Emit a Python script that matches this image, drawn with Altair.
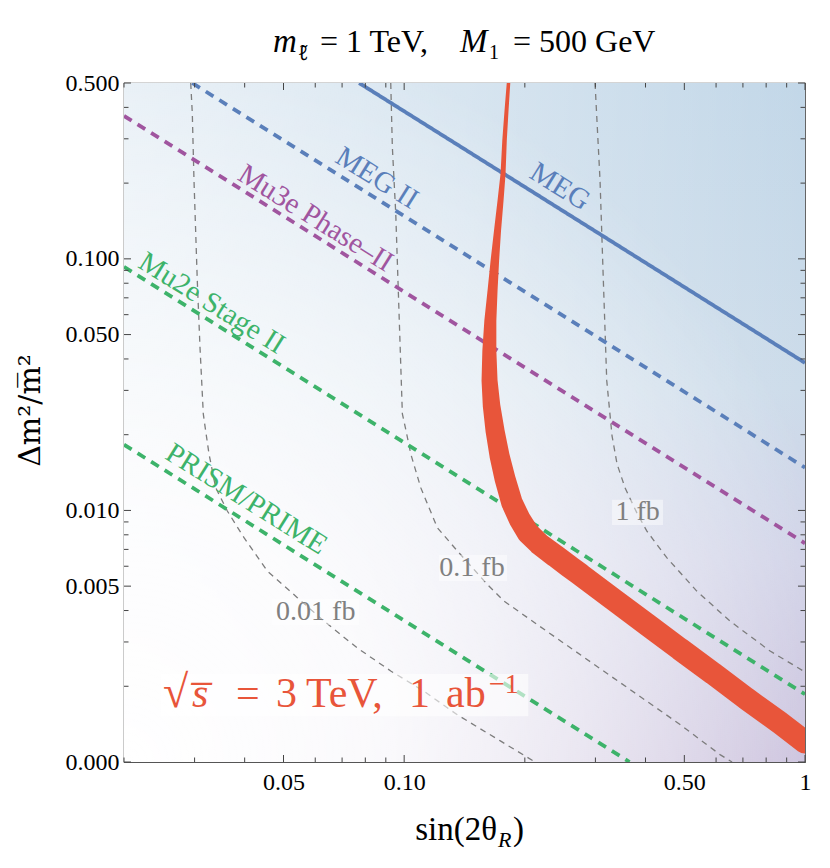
import altair as alt
import pandas as pd

FONT = "Liberation Serif"
W, H = 681, 679

# ---------------- axes ----------------
X_DOMAIN = [0.02, 1.0]
Y_DOMAIN = [0.001, 0.5]
x_major = [0.05, 0.1, 0.5, 1.0]
y_major = [0.001, 0.005, 0.01, 0.05, 0.1, 0.5]
x_minor = [0.02, 0.03, 0.04, 0.06, 0.07, 0.08, 0.09, 0.2, 0.3, 0.4, 0.6, 0.7, 0.8, 0.9]
y_minor = [0.002, 0.003, 0.004, 0.006, 0.007, 0.008, 0.009,
           0.02, 0.03, 0.04, 0.06, 0.07, 0.08, 0.09, 0.2, 0.3, 0.4]

# ---------------- experimental sensitivity lines ----------------
exp_names = ["MEG", "MEG II", "Mu3e Phase\u2013II", "Mu2e Stage II", "PRISM/PRIME"]
exp_x0 = [0.0772, 0.0296, 0.02, 0.02, 0.02]
exp_y0 = [0.5, 0.5, 0.37, 0.093, 0.01825]
exp_x1 = [1.0, 1.0, 1.0, 1.0, 0.365]
exp_y1 = [0.0386, 0.0148, 0.0074, 0.00186, 0.001]
exp_colors = ["#5a7fba", "#5a7fba", "#a0559f", "#3db36a", "#3db36a"]
exp_dash = [[1, 0], [9, 7], [9, 7], [9, 7], [9, 7]]
lab_x = [0.2449, 0.08558, 0.06016, 0.03315, 0.04043]
lab_y = [0.1940, 0.2097, 0.1453, 0.0667, 0.01111]

# ---------------- cross-section contours ----------------
c01_x = [0.02934, 0.02961, 0.02990, 0.03047, 0.03095, 0.03154, 0.03179, 0.03259, 0.03386,
         0.03621, 0.03985, 0.04557, 0.05414, 0.06310, 0.07640, 0.09258, 0.11208, 0.13573,
         0.17416, 0.2121]
c01_y = [0.5, 0.3788, 0.2050, 0.0820, 0.0443, 0.02421, 0.02208, 0.01678, 0.01232,
         0.00995, 0.00779, 0.00574, 0.00450, 0.00363, 0.00284, 0.00230, 0.00191, 0.00154,
         0.00121, 0.001]
c1_x = [0.09258, 0.09344, 0.09529, 0.09711, 0.09897, 0.10109, 0.10386, 0.10998, 0.12097,
        0.13573, 0.16124, 0.17749, 0.22680, 0.33254, 0.48778, 0.61380, 0.65770]
c1_y = [0.5, 0.2781, 0.1510, 0.0605, 0.02421, 0.02072, 0.01678, 0.01232, 0.00854,
        0.00690, 0.00508, 0.00436, 0.00331, 0.00216, 0.00141, 0.00107, 0.001]
c10_x = [0.29936, 0.30808, 0.31398, 0.32018, 0.33006, 0.33968, 0.35566, 0.38040, 0.40288,
         0.45200, 0.53698, 0.65018, 0.81842, 1.0]
c10_y = [0.5, 0.2050, 0.0820, 0.0328, 0.0198, 0.0153, 0.0123, 0.0098, 0.00829,
         0.00649, 0.00478, 0.00363, 0.00276, 0.00228]
contour_labels = ["0.01 fb", "0.1 fb", "1 fb"]
clab_x = [0.06016, 0.14767, 0.38216]
clab_y = [0.003942, 0.005903, 0.009861]
cbox_x0 = [0.04681, 0.12215, 0.33006]
cbox_x1 = [0.07715, 0.18057, 0.4425]
cbox_y0 = [0.0035, 0.005239, 0.008754]
cbox_y1 = [0.004442, 0.006648, 0.011014]

# ---------------- 3 TeV, 1 ab^-1 band ----------------
band_x = [0.1821, 0.18005, 0.17800, 0.1765, 0.17396, 0.17099, 0.16836, 0.16615, 0.16406, 0.16312,
          0.1633, 0.16520, 0.16855, 0.17297, 0.17851, 0.18581, 0.19399, 0.20372, 0.21825, 0.23788,
          0.25930, 0.27462, 0.33198, 0.4028, 0.48778, 0.5896, 0.7129, 0.8666, 1.0]
band_y = [0.5, 0.3893, 0.2957, 0.2185, 0.1706, 0.1297, 0.0984, 0.0748, 0.0568, 0.0431,
          0.0328, 0.02606, 0.02072, 0.01648, 0.01335, 0.01071, 0.00925, 0.00814, 0.00732, 0.00661,
          0.00596, 0.00557, 0.00444, 0.00353, 0.00281, 0.00225, 0.00179, 0.00143, 0.00120]
band_w = [3.5, 4, 4.5, 5, 6, 7, 8.5, 10, 12, 14,
          16, 17.5, 19, 20, 21, 21.5, 22, 22.5, 22.5, 23,
          23, 23, 23, 23, 23, 23, 23, 23, 23]

RED = "#e8553a"

XS = alt.Scale(type="log", domain=X_DOMAIN, nice=False)
YS = alt.Scale(type="log", domain=Y_DOMAIN, nice=False)
XAX = alt.Axis(values=x_major,
               labelExpr="datum.value >= 1 ? '1' : format(datum.value, '.2f')",
               ticks=False, domain=False, grid=False, labelFont=FONT, labelFontSize=24,
               labelColor="black", labelPadding=8, labelFlush=False, labelOverlap=False,
               title=None)
YAX = alt.Axis(values=y_major,
               labelExpr="datum.value < 0.002 ? '0.000' : format(datum.value, '.3f')",
               ticks=False, domain=False, grid=False, labelFont=FONT, labelFontSize=24,
               labelColor="black", labelPadding=5, labelFlush=False, labelOverlap=False,
               title="\u0394m\u00b2/m\u0305\u00b2", titleFont="DejaVu Serif", titleFontSize=30,
               titleFontWeight="normal", titleColor="black", titleX=-94, titleY=327,
               titleAngle=-90, titleAlign="center", titleBaseline="middle")


def X(f):
    return alt.X(f, type="quantitative", scale=XS, axis=XAX)


def Y(f):
    return alt.Y(f, type="quantitative", scale=YS, axis=YAX)


layers = []

# background shading: blue (top) to lavender (bottom), whitened towards the left / bottom-left
bg = pd.DataFrame({"x0": [X_DOMAIN[0]], "x1": [X_DOMAIN[1]], "y0": [Y_DOMAIN[0]], "y1": [Y_DOMAIN[1]]})
base_grad = {"gradient": "linear", "x1": 0, "y1": 0, "x2": 0, "y2": 1,
             "stops": [{"offset": 0, "color": "#c2d7e8"}, {"offset": 0.45, "color": "#cddcea"},
                       {"offset": 0.7, "color": "#d0d2e7"}, {"offset": 1, "color": "#c8bedb"}]}
white_h = {"gradient": "linear", "x1": 0, "y1": 0, "x2": 1, "y2": 0,
           "stops": [{"offset": 0, "color": "rgba(255,255,255,0.6)"},
                     {"offset": 0.5, "color": "rgba(255,255,255,0.35)"},
                     {"offset": 1, "color": "rgba(255,255,255,0)"}]}
white_r = {"gradient": "radial", "x1": 0, "y1": 1, "r1": 0, "x2": 0, "y2": 1, "r2": 1.1,
           "stops": [{"offset": 0, "color": "rgba(255,255,255,1)"},
                     {"offset": 0.35, "color": "rgba(255,255,255,0.85)"},
                     {"offset": 1, "color": "rgba(255,255,255,0)"}]}
for g in (base_grad, white_h, white_r):
    layers.append(alt.Chart(bg).mark_rect(fill=g).encode(x=X("x0"), x2=alt.X2("x1"), y=Y("y0"), y2=alt.Y2("y1")))

# contours
for cx, cy in ((c01_x, c01_y), (c1_x, c1_y), (c10_x, c10_y)):
    df = pd.DataFrame({"x": cx, "y": cy, "i": list(range(len(cx)))})
    layers.append(alt.Chart(df).mark_line(color="#7c7c7c", strokeWidth=1.3, strokeDash=[6, 5], clip=True)
                  .encode(x=X("x"), y=Y("y"), order="i:Q"))

# contour label boxes (semi-transparent)
cb = pd.DataFrame({"x0": cbox_x0, "x1": cbox_x1, "y0": cbox_y0, "y1": cbox_y1})
layers.append(alt.Chart(cb).mark_rect(fill="white", opacity=0.45)
              .encode(x=X("x0"), x2=alt.X2("x1"), y=Y("y0"), y2=alt.Y2("y1")))

# experimental lines
for n, x0, y0, x1, y1, c, d in zip(exp_names, exp_x0, exp_y0, exp_x1, exp_y1, exp_colors, exp_dash):
    df = pd.DataFrame({"x": [x0, x1], "y": [y0, y1], "i": [0, 1]})
    layers.append(alt.Chart(df).mark_line(color=c, strokeWidth=3.8, strokeDash=d, clip=True)
                  .encode(x=X("x"), y=Y("y"), order="i:Q"))

# red band
bdf = pd.DataFrame({"x": band_x, "y": band_y, "w": band_w, "i": list(range(len(band_x)))})
layers.append(alt.Chart(bdf).mark_trail(color=RED, clip=True)
              .encode(x=X("x"), y=Y("y"), order="i:Q", size=alt.Size("w:Q", scale=None, legend=None)))

# white box behind red label
box = pd.DataFrame({"x0": [0.0247], "x1": [0.204], "y0": [0.00152], "y1": [0.00224]})
layers.append(alt.Chart(box).mark_rect(fill="white", opacity=0.6)
              .encode(x=X("x0"), x2=alt.X2("x1"), y=Y("y0"), y2=alt.Y2("y1")))

# experiment labels
for n, lx, ly, c in zip(exp_names, lab_x, lab_y, exp_colors):
    df = pd.DataFrame({"x": [lx], "y": [ly]})
    layers.append(alt.Chart(df).mark_text(text=n, font=FONT, fontSize=29, color=c, angle=32,
                                          align="center", baseline="middle")
                  .encode(x=X("x"), y=Y("y")))

# contour labels
for t, lx, ly in zip(contour_labels, clab_x, clab_y):
    df = pd.DataFrame({"x": [lx], "y": [ly]})
    layers.append(alt.Chart(df).mark_text(text=t, font=FONT, fontSize=28, color="#808080",
                                          align="center", baseline="middle")
                  .encode(x=X("x"), y=Y("y")))

# title, collider label & x-axis title (composed text pieces, pixel layout)
one = pd.DataFrame({"a": [0]})


def piece(s, px, py, size, style="normal", align="left", color="black", font=FONT):
    return alt.Chart(one).mark_text(text=s, font=font, fontSize=size, fontStyle=style, color=color,
                                    align=align, baseline="alphabetic").encode(x=alt.value(px), y=alt.value(py))


ry = 624
layers += [
    piece("\u221a", 39, ry, 46, color=RED),
    piece("s\u0305", 68, ry, 42, "italic", color=RED),
    piece("=", 112, ry, 42, color=RED),
    piece("3", 152, ry, 42, color=RED),
    piece("TeV,", 182, ry, 42, color=RED),
    piece("1", 285, ry, 42, color=RED),
    piece("ab", 322, ry, 42, color=RED),
    piece("\u22121", 365, ry - 14, 28, color=RED),
]

ty = -31
layers += [
    piece("m", 149, ty, 33, "italic"),
    piece("\u2113\u0303", 174, ty + 8, 20, "italic", font="Noto Sans"),
    piece("= 1 TeV,", 196, ty, 32),
    piece("M", 336, ty, 33, "italic"),
    piece("1", 365, ty + 7, 20),
    piece("= 500 GeV", 389, ty, 32),
]
xy = 757
layers += [
    piece("sin(2\u03b8", 373, xy, 33, align="right"),
    piece("R", 374, xy + 7, 22, "italic"),
    piece(")", 389, xy, 33),
]

# inside ticks on all four sides
TICK = "#444444"
for vals, ln in ((x_major, 7), (x_minor, 4.5)):
    df = pd.DataFrame({"v": vals})
    layers.append(alt.Chart(df).mark_rule(color=TICK, strokeWidth=1)
                  .encode(x=X("v"), y=alt.value(H), y2=alt.value(H - ln)))
    layers.append(alt.Chart(df).mark_rule(color=TICK, strokeWidth=1)
                  .encode(x=X("v"), y=alt.value(0), y2=alt.value(ln)))
for vals, ln in ((y_major, 7), (y_minor, 4.5)):
    df = pd.DataFrame({"v": vals})
    layers.append(alt.Chart(df).mark_rule(color=TICK, strokeWidth=1)
                  .encode(y=Y("v"), x=alt.value(0), x2=alt.value(ln)))
    layers.append(alt.Chart(df).mark_rule(color=TICK, strokeWidth=1)
                  .encode(y=Y("v"), x=alt.value(W), x2=alt.value(W - ln)))

chart = alt.layer(*layers).properties(
    width=W, height=H,
    autosize=alt.AutoSizeParams(type="none"),
    padding={"left": 116, "top": 75, "right": 16, "bottom": 90},
).configure_view(stroke="#555555", strokeWidth=1.2
).configure_axis(labelFont=FONT, titleFont=FONT)

chart.save("out.html", embed_options={"renderer": "svg", "actions": False})
